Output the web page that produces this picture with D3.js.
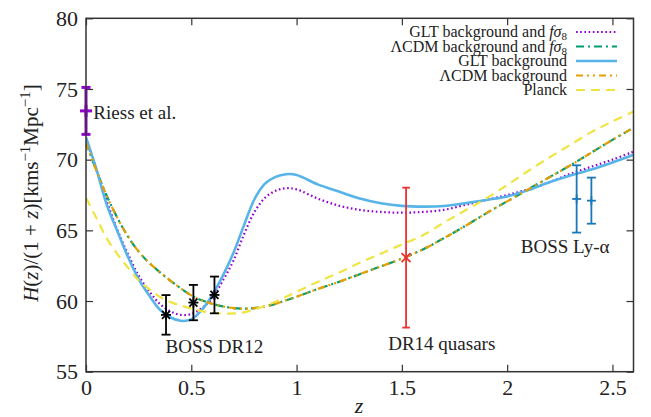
<!DOCTYPE html>
<meta charset='utf-8'>
<head>
<script src='https://d3js.org/d3.v7.min.js'></script>
<style>
  body{ margin: 0; background: #fff; }
  #chart text{ font-family: 'Liberation Serif', 'DejaVu Serif', serif; fill: #222; }
</style>
</head>
<body>
<svg id="chart" width="651" height="417"></svg>
<script>

// redshift grid the curves were read on
var zGrid = [0,0.05,0.1,0.15,0.2,0.25,0.3,0.35,0.4,0.45,0.5,0.55,0.6,0.65,0.7,0.75,0.8,0.85,0.9,0.95,1.0,
             1.1,1.2,1.3,1.4,1.5,1.6,1.7,1.8,1.9,2.0,2.1,2.2,2.3,2.4,2.5,2.6];

var gltFs8 = [71.5,69.3,67.0,65.0,63.3,61.8,60.7,59.8,59.28,59.02,59.08,59.5,60.2,61.45,62.85,64.7,66.3,67.3,67.8,67.98,67.9,
              67.25,66.75,66.45,66.3,66.25,66.3,66.45,66.8,67.15,67.5,67.9,68.4,69.0,69.5,70.0,70.57];
var lcdmFs8 = [71.2,69.2,67.4,65.85,64.55,63.5,62.7,62.05,61.45,60.9,60.4,60.05,59.8,59.62,59.5,59.46,59.5,59.62,59.8,60.05,60.3,
               60.85,61.35,61.9,62.45,63.0,63.65,64.45,65.3,66.2,67.05,67.9,68.75,69.6,70.5,71.4,72.25];
var gltBg = [71.6,69.3,66.75,64.9,63.1,61.55,60.4,59.4,58.85,58.6,58.7,59.37,60.43,61.8,63.4,65.35,67.2,68.3,68.78,68.97,68.92,
             68.25,67.75,67.25,66.92,66.73,66.68,66.72,66.92,67.15,67.4,67.85,68.4,68.88,69.3,69.8,70.35];
var lcdmBg = [71.2,69.2,67.4,65.85,64.55,63.5,62.7,62.05,61.45,60.9,60.4,60.05,59.8,59.62,59.5,59.46,59.5,59.62,59.8,60.05,60.3,
              60.85,61.35,61.9,62.45,63.0,63.65,64.45,65.3,66.2,67.05,67.9,68.75,69.6,70.5,71.4,72.25];
var planck = [67.3,65.85,64.4,63.3,62.35,61.45,60.85,60.3,59.93,59.68,59.46,59.28,59.17,59.11,59.12,59.2,59.4,59.65,59.95,60.3,60.65,
              61.35,62.0,62.7,63.35,64.0,64.65,65.55,66.4,67.25,68.2,69.2,70.15,71.05,71.95,72.7,73.4];

var seriesNames = ['GLT background and f\u03c38', '\u039bCDM background and f\u03c38', 'GLT background', '\u039bCDM background', 'Planck'];

// measurements
var riessZ = [0.0],  riessH = [73.45],  riessErr = [1.66];
var dr12Z = [0.38, 0.51, 0.61],  dr12H = [59.02, 59.89, 60.43],  dr12Err = [1.4, 1.25, 1.3];
var dr14Z = [1.52],  dr14H = [63.07],  dr14Err = [4.95];
var lyaZ = [2.33, 2.40],  lyaH = [67.22, 67.1],  lyaErr = [2.38, 1.63];

var xTicks = [0, 0.5, 1, 1.5, 2, 2.5];
var yTicks = [55, 60, 65, 70, 75, 80];

var margin = {top: 18.3, right: 17.5, bottom: 45.3, left: 86},
    width = 651 - margin.left - margin.right,
    height = 417 - margin.top - margin.bottom;

var serif = "'Liberation Serif', 'DejaVu Serif', serif";

var svg = d3.select('#chart');

var x = d3.scaleLinear().domain([0, 2.6]).range([0, width]);
var y = d3.scaleLinear().domain([55, 80]).range([height, 0]);

var g = svg.append('g')
    .attr('transform', 'translate(' + margin.left + ',' + margin.top + ')');

g.append('clipPath').attr('id', 'clip')
  .append('rect').attr('width', width).attr('height', height);

// ticks, inward, on all four sides
var tickLen = 7;
var gx = g.append('g').attr('transform', 'translate(0,' + height + ')')
  .call(d3.axisBottom(x).tickValues(xTicks).tickSize(-tickLen).tickPadding(8).tickFormat(d3.format('')));
var gy = g.append('g')
  .call(d3.axisLeft(y).tickValues(yTicks).tickSize(-tickLen).tickPadding(8));
var gx2 = g.append('g')
  .call(d3.axisTop(x).tickValues(xTicks).tickSize(-tickLen).tickFormat(''));
var gy2 = g.append('g').attr('transform', 'translate(' + width + ',0)')
  .call(d3.axisRight(y).tickValues(yTicks).tickSize(-tickLen).tickFormat(''));

[gx, gy, gx2, gy2].forEach(function(a) {
  a.attr('font-family', serif);
  a.select('.domain').remove();
  a.selectAll('.tick line').attr('stroke', '#333').attr('stroke-width', 1.2);
  a.selectAll('text').style('font-size', '22px').attr('fill', '#222');
});

// curves
var line = d3.line()
  .x(function(d) { return x(d[0]); })
  .y(function(d) { return y(d[1]); })
  .curve(d3.curveCatmullRom.alpha(0.5));

var curves = [
  {name: seriesNames[0], vals: gltFs8, color: '#9400d3', width: 2.2, dash: '1.6,2.6'},
  {name: seriesNames[1], vals: lcdmFs8, color: '#009e73', width: 2.2, dash: '8,4,2,4'},
  {name: seriesNames[2], vals: gltBg, color: '#56b4e9', width: 2.6, dash: null},
  {name: seriesNames[3], vals: lcdmBg, color: '#e69f00', width: 2.2, dash: '7,4,2,4,2,4'},
  {name: seriesNames[4], vals: planck, color: '#f0e442', width: 2.2, dash: '9,6'}
];

var plot = g.append('g').attr('clip-path', 'url(#clip)');

plot.selectAll('.curve')
  .data(curves)
  .enter().append('path')
    .attr('class', 'curve')
    .attr('fill', 'none')
    .attr('stroke', function(d) { return d.color; })
    .attr('stroke-width', function(d) { return d.width; })
    .attr('stroke-dasharray', function(d) { return d.dash; })
    .attr('d', function(d) { return line(zGrid.map(function(z, i) { return [z, d.vals[i]]; })); });

// error bars with markers
function errorSet(zs, hs, errs, color, lw, capW, marker, size) {
  var pts = zs.map(function(z, i) { return {z: z, h: hs[i], e: errs[i]}; });
  var grp = g.append('g').attr('stroke', color).attr('stroke-width', lw).attr('fill', 'none');
  var p = grp.selectAll('g').data(pts).enter().append('g')
    .attr('transform', function(d) { return 'translate(' + x(d.z) + ',0)'; });
  p.append('line')
    .attr('y1', function(d) { return y(d.h - d.e); })
    .attr('y2', function(d) { return y(d.h + d.e); });
  p.append('line').attr('x1', -capW).attr('x2', capW)
    .attr('y1', function(d) { return y(d.h + d.e); }).attr('y2', function(d) { return y(d.h + d.e); });
  p.append('line').attr('x1', -capW).attr('x2', capW)
    .attr('y1', function(d) { return y(d.h - d.e); }).attr('y2', function(d) { return y(d.h - d.e); });
  var m = p.append('g').attr('transform', function(d) { return 'translate(0,' + y(d.h) + ')'; });
  if (marker === 'plus' || marker === 'star') {
    m.append('line').attr('x1', -size).attr('x2', size);
    m.append('line').attr('y1', -size).attr('y2', size);
  }
  if (marker === 'cross' || marker === 'star') {
    var s = marker === 'star' ? size * 0.8 : size;
    m.append('line').attr('x1', -s).attr('x2', s).attr('y1', -s).attr('y2', s);
    m.append('line').attr('x1', -s).attr('x2', s).attr('y1', s).attr('y2', -s);
  }
}

errorSet(riessZ, riessH, riessErr, '#9400d3', 3, 4.5, 'plus', 6);
errorSet(dr12Z, dr12H, dr12Err, '#000', 1.8, 4.5, 'star', 5);
errorSet(dr14Z, dr14H, dr14Err, '#ee3030', 1.8, 3.8, 'cross', 4.5);
errorSet(lyaZ, lyaH, lyaErr, '#1b78b8', 1.8, 4.5, 'plus', 4.5);

// frame
g.append('rect')
  .attr('width', width).attr('height', height)
  .attr('fill', 'none').attr('stroke', '#333').attr('stroke-width', 1.5);

// annotations
var notes = [
  {t: 'Riess et al.', z: 0.035, h: 73.45, dy: 8},
  {t: 'BOSS DR12', z: 0.378, h: 56.3, dy: 0},
  {t: 'DR14 quasars', z: 1.435, h: 56.5, dy: 0},
  {t: 'BOSS Ly-\u03b1', z: 2.065, h: 63.4, dy: 0}
];
g.selectAll('.note')
  .data(notes)
  .enter().append('text')
    .attr('class', 'note')
    .attr('x', function(d) { return x(d.z); })
    .attr('y', function(d) { return y(d.h) + d.dy; })
    .style('font-family', serif)
    .style('font-size', '19px')
    .text(function(d) { return d.t; });

// legend
var legend = svg.append('g').attr('transform', 'translate(567,37)');
var row = legend.selectAll('.legend')
  .data(curves)
  .enter().append('g')
    .attr('class', 'legend')
    .attr('transform', function(d, i) { return 'translate(0,' + i * 14.5 + ')'; });

row.append('text')
  .attr('text-anchor', 'end')
  .style('font-family', serif)
  .style('font-size', '16px')
  .each(function(d) {
    var t = d3.select(this);
    if (d.name.indexOf('f\u03c38') >= 0) {
      t.append('tspan').text(d.name.replace('f\u03c38', ''));
      t.append('tspan').style('font-style', 'italic').text('f\u03c3');
      t.append('tspan').attr('dy', 3).style('font-size', '11px').text('8');
    } else {
      t.text(d.name);
    }
  });

row.append('line')
  .attr('x1', 9).attr('x2', 50)
  .attr('y1', -5).attr('y2', -5)
  .attr('stroke', function(d) { return d.color; })
  .attr('stroke-width', function(d) { return d.width; })
  .attr('stroke-dasharray', function(d) { return d.dash; });

// axis titles
svg.append('text')
  .attr('x', 359).attr('y', 413)
  .attr('text-anchor', 'middle')
  .style('font-family', serif)
  .style('font-size', '22px').style('font-style', 'italic')
  .text('z');

var yl = svg.append('text')
  .attr('transform', 'translate(38,193) rotate(-90)')
  .attr('text-anchor', 'middle')
  .style('font-family', serif)
  .style('font-size', '21px');
yl.append('tspan').style('font-style', 'italic').text('H');
yl.append('tspan').text('(');
yl.append('tspan').style('font-style', 'italic').text('z');
yl.append('tspan').text(')/(1 + ');
yl.append('tspan').style('font-style', 'italic').text('z');
yl.append('tspan').text(')[kms');
yl.append('tspan').attr('dy', -8).style('font-size', '15px').text('\u22121');
yl.append('tspan').attr('dy', 8).text('Mpc');
yl.append('tspan').attr('dy', -8).style('font-size', '15px').text('\u22121');
yl.append('tspan').attr('dy', 8).text(']');

</script>
</body>
</html>
